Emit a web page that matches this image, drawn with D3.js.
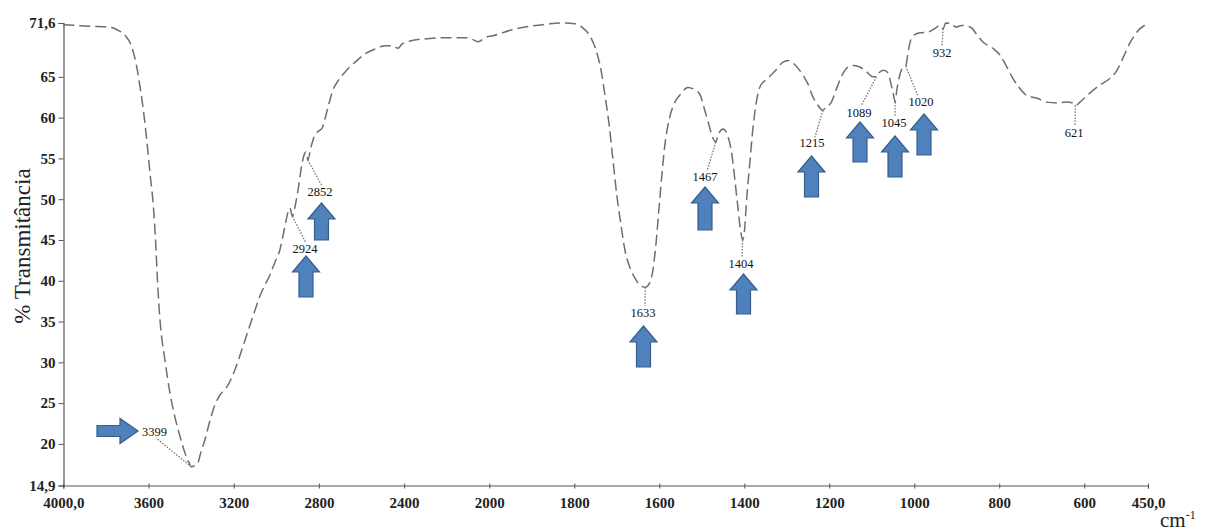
<!DOCTYPE html>
<html>
<head>
<meta charset="utf-8">
<script src="https://cdn.jsdelivr.net/npm/d3@7"></script>
<style>
  html, body { margin: 0; padding: 0; background: #fff; }
  svg { display: block; }
  text { font-family: "Liberation Serif", "DejaVu Serif", serif; }
</style>
</head>
<body>
<svg id="chart" width="1207" height="531"></svg>
<script>
// ---- Data ----
const wavenumbers = [4000,3875,3781,3743,3710,3679,3655,3640,3624,3608,3593,3577,3567,3558,3546,3523,3499,3476,3452,3429,3410,3399,3385,3366,3358,3335,3311,3288,3264,3227,3194,3170,3147,3123,3100,3076,3053,3030,3006,2983,2968,2954,2945,2936,2924,2912,2898,2884,2870,2860,2852,2837,2823,2804,2785,2771,2752,2734,2710,2677,2630,2584,2537,2490,2452,2429,2410,2372,2278,2184,2114,2081,2053,2020,1987,1951,1904,1857,1822,1798,1780,1763,1749,1737,1728,1718,1709,1700,1690,1681,1669,1657,1646,1633,1622,1615,1608,1601,1594,1587,1577,1566,1551,1533,1516,1504,1493,1483,1476,1467,1462,1450,1438,1429,1422,1415,1408,1404,1400,1394,1387,1380,1371,1361,1347,1326,1309,1297,1286,1274,1262,1250,1239,1229,1215,1208,1196,1184,1170,1156,1142,1128,1114,1097,1089,1083,1072,1062,1055,1050,1045,1041,1036,1027,1020,1016,1010,1001,987,968,952,940,932,926,912,902,888,874,865,853,839,815,799,782,768,752,735,712,688,665,641,627,621,606,587,563,540,523,509,493,476,452];
const transmittance = [71.4,71.2,71.1,70.7,70.1,68.7,66.2,63.8,60.9,57.2,53.2,49.1,45.0,40.1,35.2,30.3,26.2,23.3,20.9,18.9,17.7,17.2,17.3,17.8,18.6,20.5,22.9,24.8,26.0,27.2,29.1,30.9,32.7,34.6,36.4,38.2,39.5,40.7,42.3,43.8,45.6,47.4,48.4,48.9,47.9,49.1,51.1,53.6,55.4,55.8,54.8,56.4,57.6,58.3,58.7,59.9,61.8,63.4,64.5,65.6,66.8,67.8,68.4,68.8,68.8,68.5,69.0,69.4,69.7,69.8,69.8,69.6,69.3,69.8,70.1,70.7,71.2,71.5,71.6,71.5,71.0,70.0,68.3,65.8,62.8,59.1,54.8,50.5,46.8,43.8,41.6,40.3,39.5,39.2,39.8,41.3,44.4,48.7,52.9,56.6,59.7,61.6,62.8,63.7,63.4,62.8,60.9,59.1,57.8,57.0,57.8,58.6,57.6,55.4,52.3,49.0,45.9,45.0,45.9,50.3,54.4,58.5,62.1,64.0,64.7,65.8,66.8,67.0,66.7,66.1,65.2,64.1,62.6,61.7,60.9,61.3,61.8,63.4,65.2,66.2,66.4,66.2,65.7,65.0,65.0,65.5,65.8,65.5,64.2,63.1,61.9,63.4,64.8,66.1,66.3,67.5,69.2,70.1,70.4,70.5,70.9,71.3,70.9,71.6,71.5,71.1,71.3,71.2,71.0,70.2,69.3,68.5,67.7,66.2,64.8,63.6,62.7,62.4,61.9,61.8,61.9,61.8,61.5,62.1,63.0,64.0,64.8,65.8,67.3,69.1,70.5,71.5];

const peakLabels = [3399, 2924, 2852, 1633, 1467, 1404, 1215, 1089, 1045, 1020, 932, 621];
const arrowedPeaks = [3399, 2924, 2852, 1633, 1467, 1404, 1215, 1089, 1045, 1020];

const xTickValues = [4000, 3600, 3200, 2800, 2400, 2000, 1800, 1600, 1400, 1200, 1000, 800, 600, 450];
const xTickLabels = ["4000,0", "3600", "3200", "2800", "2400", "2000", "1800", "1600", "1400", "1200", "1000", "800", "600", "450,0"];
const yTickValues = [14.9, 20, 25, 30, 35, 40, 45, 50, 55, 60, 65, 71.6];
const yTickLabels = ["14,9", "20", "25", "30", "35", "40", "45", "50", "55", "60", "65", "71,6"];

const yTitle = "% Transmitância";

// ---- Annotation layout (pixels), one per peak label ----
const labelLayout = [
  {x: 142, y: 436, anchor: "start", ex: 156, ey: 438},
  {x: 305, y: 253, anchor: "middle", ex: 306, ey: 243},
  {x: 320, y: 196, anchor: "middle", ex: 322, ey: 186},
  {x: 643, y: 317, anchor: "middle", ex: 645, ey: 306},
  {x: 705, y: 181, anchor: "middle", ex: 707, ey: 171},
  {x: 741, y: 268, anchor: "middle", ex: 742, ey: 258},
  {x: 812, y: 147, anchor: "middle", ex: 815, ey: 137},
  {x: 859, y: 117, anchor: "middle", ex: 861, ey: 106},
  {x: 894, y: 127, anchor: "middle", ex: 895, ey: 117},
  {x: 921, y: 106, anchor: "middle", ex: 918, ey: 96},
  {x: 942, y: 57, anchor: "middle", ex: 942, ey: 46},
  {x: 1074, y: 137, anchor: "middle", ex: 1075, ey: 126}
];
const arrowLayout = [
  {dir: "right", x0: 97, x1: 138, cy: 431},
  {dir: "up", cx: 306, tip: 256, bottom: 297},
  {dir: "up", cx: 321.5, tip: 203, bottom: 240},
  {dir: "up", cx: 643.5, tip: 326, bottom: 367},
  {dir: "up", cx: 705, tip: 187, bottom: 230},
  {dir: "up", cx: 743.5, tip: 274, bottom: 314},
  {dir: "up", cx: 811.5, tip: 156, bottom: 197},
  {dir: "up", cx: 860, tip: 122, bottom: 162},
  {dir: "up", cx: 895, tip: 136, bottom: 177},
  {dir: "up", cx: 924, tip: 114, bottom: 155}
];

// ---- Scales ----
const svg = d3.select("#chart");
const x = d3.scaleLinear().domain([4000, 2000, 450]).range([63.3, 489.3, 1148]);
const y = d3.scaleLinear().domain([14.9, 71.6]).range([485.5, 23]);

const axisColor = "#555";

// Y axis
const yAxis = d3.axisLeft(y).tickValues(yTickValues)
  .tickFormat((d, i) => yTickLabels[i]).tickSize(5).tickPadding(3);
const gy = svg.append("g").attr("transform", "translate(63.5,0)").call(yAxis);
gy.select(".domain").attr("stroke", axisColor).attr("stroke-width", 1.2);
gy.selectAll(".tick line").attr("stroke", axisColor);
gy.selectAll(".tick text").attr("font-size", 15)
  .attr("font-weight", "bold").attr("fill", "#222");

// X axis
const xAxis = d3.axisBottom(x).tickValues(xTickValues)
  .tickFormat((d, i) => xTickLabels[i]).tickSize(3).tickPadding(9);
const gx = svg.append("g").attr("transform", "translate(0,485.5)").call(xAxis);
gx.select(".domain").attr("stroke", axisColor).attr("stroke-width", 1.2);
gx.selectAll(".tick line").attr("stroke", axisColor).attr("y1", -2);
gx.selectAll(".tick text").attr("font-size", 15)
  .attr("font-weight", "bold").attr("fill", "#222");

// Axis titles
svg.append("text")
  .attr("transform", "translate(30,246) rotate(-90)")
  .attr("text-anchor", "middle")
  .attr("font-size", 23)
  .attr("fill", "#222")
  .text(yTitle);

const cm = svg.append("text").attr("x", 1160).attr("y", 527).attr("font-size", 21).attr("fill", "#222");
cm.append("tspan").text("cm");
cm.append("tspan").attr("dy", -8).attr("font-size", 12).text("-1");

// ---- Spectrum line ----
const pts = wavenumbers.map((w, i) => [w, transmittance[i]]);
const line = d3.line().x(d => x(d[0])).y(d => y(d[1])).curve(d3.curveMonotoneX);
svg.append("path")
  .datum(pts)
  .attr("d", line)
  .attr("fill", "none")
  .attr("stroke", "#6e6e6e")
  .attr("stroke-width", 1.5)
  .attr("stroke-dasharray", "11,5");

// interpolate transmittance at a given wavenumber
function tAt(w) {
  for (let i = 0; i < wavenumbers.length - 1; i++) {
    const a = wavenumbers[i], b = wavenumbers[i + 1];
    if (w <= a && w >= b) {
      const t = (a - w) / (a - b);
      return transmittance[i] + t * (transmittance[i + 1] - transmittance[i]);
    }
  }
  return transmittance[transmittance.length - 1];
}

// ---- Peak annotations ----
const ann = svg.append("g");
peakLabels.forEach((p, i) => {
  const L = labelLayout[i];
  ann.append("line")
    .attr("x1", x(p)).attr("y1", y(tAt(p)))
    .attr("x2", L.ex).attr("y2", L.ey)
    .attr("stroke", "#777").attr("stroke-width", 1.3)
    .attr("stroke-dasharray", "1.5,1.5");
  ann.append("text")
    .attr("x", L.x).attr("y", L.y)
    .attr("text-anchor", L.anchor)
    .attr("font-size", 12.5)
    .attr("fill", "#111")
    .text(p);
});

// ---- Arrows ----
function arrowPath(a) {
  if (a.dir === "up") {
    const hw = 13.5, sw = 7, hh = 16;
    const cx = a.cx, t = a.tip, b = a.bottom;
    return `M${cx},${t} L${cx + hw},${t + hh} L${cx + sw},${t + hh} L${cx + sw},${b} L${cx - sw},${b} L${cx - sw},${t + hh} L${cx - hw},${t + hh} Z`;
  } else {
    const hh = 12.5, sw = 5.5, hl = 18;
    const cy = a.cy, l = a.x0, r = a.x1;
    return `M${r},${cy} L${r - hl},${cy - hh} L${r - hl},${cy - sw} L${l},${cy - sw} L${l},${cy + sw} L${r - hl},${cy + sw} L${r - hl},${cy + hh} Z`;
  }
}
svg.append("g").selectAll("path")
  .data(arrowedPeaks.map((p, i) => arrowLayout[i]))
  .join("path")
  .attr("d", arrowPath)
  .attr("fill", "#4F81BD")
  .attr("stroke", "#385D8A")
  .attr("stroke-width", 1.2);
</script>
</body>
</html>
